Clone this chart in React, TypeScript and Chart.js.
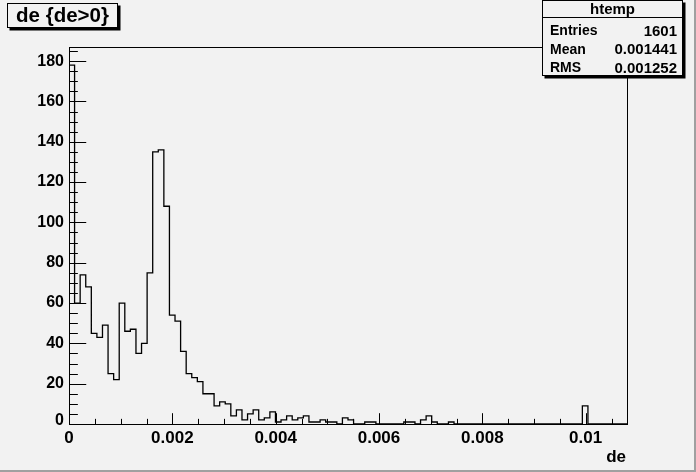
import { useEffect, useRef } from "react";
import { Chart, registerables } from "chart.js";

Chart.register(...registerables);

// ---- data ----
const X_MIN = 0;
const X_MAX = 0.0108;
const Y_MAX = 187;
const NBINS = 100;

const binCounts = [
  178, 60, 74, 68, 45, 43, 49, 25, 22, 60,
  46, 47, 35, 40, 75, 135, 136, 108, 54, 51,
  36, 25, 23, 21, 15, 15, 9, 11, 10, 4,
  7, 2, 5, 7, 2, 3, 6, 1, 2, 4,
  2, 3, 4, 1, 1, 2, 1, 1, 0, 3,
  2, 0, 0, 1, 1, 0, 0, 0, 0, 0,
  1, 1, 0, 2, 4, 1, 0, 0, 1, 0,
  0, 0, 0, 0, 0, 0, 0, 0, 0, 0,
  0, 0, 0, 0, 0, 0, 0, 0, 0, 0,
  0, 0, 9, 0, 0, 0, 0, 0, 0, 0,
];

const xTickValues = [0, 0.002, 0.004, 0.006, 0.008, 0.01];
const xTickLabels = ["0", "0.002", "0.004", "0.006", "0.008", "0.01"];
const xMinorStep = 0.0005;
const yTickValues = [0, 20, 40, 60, 80, 100, 120, 140, 160, 180];
const yTickLabels = ["0", "20", "40", "60", "80", "100", "120", "140", "160", "180"];
const yMinorStep = 5;

const titleText = "de {de>0}";
const xAxisTitle = "de";
const statsTitle = "htemp";
const statsNames = ["Entries", "Mean", "RMS"];
const statsValues = ["1601", "0.001441", "0.001252"];

// ---- styles ----
const BG = "#f2f2f2";
const FONT = '"Liberation Sans", Arial, Helvetica, sans-serif';

const rootPlugin = {
  id: "rootStyle",
  beforeDraw(chart: any) {
    const ctx = chart.ctx as CanvasRenderingContext2D;
    ctx.save();
    ctx.fillStyle = BG;
    ctx.fillRect(0, 0, chart.width, chart.height);
    ctx.fillStyle = "#a0a0a0";
    ctx.fillRect(0, chart.height - 2, chart.width, 2);
    ctx.fillRect(chart.width - 2, 0, 2, chart.height);
    ctx.restore();
  },
  afterDraw(chart: any) {
    const ctx = chart.ctx as CanvasRenderingContext2D;
    const { left, right, top, bottom } = chart.chartArea;
    const xs = chart.scales.x;
    const ys = chart.scales.y;
    const L = Math.round(left) + 0.5;
    const R = Math.round(right) + 0.5;
    const T = Math.round(top) + 0.5;
    const B = Math.round(bottom) + 0.5;
    ctx.save();
    ctx.strokeStyle = "#000";
    ctx.lineWidth = 1;
    ctx.strokeRect(L, T, R - L, B - T);

    const yMajorLen = 0.03 * (right - left);
    ctx.beginPath();
    for (let k = 0; k * yMinorStep <= Y_MAX; k++) {
      const v = k * yMinorStep;
      const py = Math.round(ys.getPixelForValue(v)) + 0.5;
      const isMajor = yTickValues.includes(v);
      const len = isMajor ? yMajorLen : yMajorLen / 2;
      ctx.moveTo(L, py);
      ctx.lineTo(L + len, py);
    }
    const xMajorLen = 0.03 * (bottom - top);
    for (let k = 0; k * xMinorStep <= X_MAX + 1e-12; k++) {
      const v = k * xMinorStep;
      const px = Math.round(xs.getPixelForValue(v)) + 0.5;
      const isMajor = k % 4 === 0;
      const len = isMajor ? xMajorLen : xMajorLen / 2;
      ctx.moveTo(px, B);
      ctx.lineTo(px, B - len);
    }
    ctx.stroke();

    ctx.fillStyle = "#000";
    ctx.font = `bold 16px ${FONT}`;
    ctx.textAlign = "right";
    ctx.textBaseline = "middle";
    yTickValues.forEach((v, i) => {
      const py = ys.getPixelForValue(v);
      ctx.fillText(yTickLabels[i], left - 5, i === 0 ? py - 3 : py);
    });
    ctx.font = `bold 17px ${FONT}`;
    ctx.textAlign = "center";
    ctx.textBaseline = "top";
    xTickValues.forEach((v, i) => {
      const px = xs.getPixelForValue(v);
      ctx.fillText(xTickLabels[i], px, bottom + 6);
    });
    ctx.font = `bold 17px ${FONT}`;
    ctx.textAlign = "right";
    ctx.textBaseline = "alphabetic";
    ctx.fillText(xAxisTitle, right - 1, 462);

    const tb = { x: 7.5, y: 3.5, w: 110, h: 24 };
    ctx.fillStyle = "#000";
    ctx.fillRect(tb.x + 2, tb.y + 2, tb.w + 1, tb.h + 1);
    ctx.fillStyle = BG;
    ctx.fillRect(tb.x, tb.y, tb.w, tb.h);
    ctx.strokeRect(tb.x, tb.y, tb.w, tb.h);
    ctx.fillStyle = "#000";
    ctx.font = `bold 20.5px ${FONT}`;
    ctx.textAlign = "center";
    ctx.textBaseline = "middle";
    ctx.fillText(titleText, tb.x + tb.w / 2, tb.y + tb.h / 2 + 1);

    const sb = { x: 542.5, y: 0.5, w: 140, h: 75 };
    ctx.fillStyle = "#000";
    ctx.fillRect(sb.x + 2, sb.y + 2, sb.w + 1, sb.h + 1);
    ctx.fillStyle = BG;
    ctx.fillRect(sb.x, sb.y, sb.w, sb.h);
    ctx.strokeRect(sb.x, sb.y, sb.w, sb.h);
    ctx.beginPath();
    ctx.moveTo(sb.x, 17.5);
    ctx.lineTo(sb.x + sb.w, 17.5);
    ctx.stroke();
    ctx.fillStyle = "#000";
    ctx.font = `bold 15px ${FONT}`;
    ctx.textAlign = "center";
    ctx.textBaseline = "middle";
    ctx.fillText(statsTitle, sb.x + sb.w / 2, 10);
    const rowY = [31.5, 50, 68.5];
    statsNames.forEach((n, i) => {
      ctx.font = `bold 14px ${FONT}`;
      ctx.textAlign = "left";
      ctx.fillText(n, 550, rowY[i]);
      ctx.font = `bold 15px ${FONT}`;
      ctx.textAlign = "right";
      ctx.fillText(statsValues[i], 677, rowY[i]);
    });
    ctx.restore();
  },
};

export default function App() {
  const ref = useRef<HTMLCanvasElement>(null);
  useEffect(() => {
    const binW = (X_MAX - X_MIN) / NBINS;
    const pts = [
      { x: X_MIN, y: 0 },
      ...binCounts.map((c, i) => ({ x: X_MIN + i * binW, y: c })),
      { x: X_MAX, y: 0 },
    ];
    const chart = new Chart(ref.current!, {
      type: "line",
      data: {
        datasets: [
          {
            data: pts,
            stepped: true,
            borderColor: "#000",
            borderWidth: 1.3,
            pointRadius: 0,
            fill: false,
            tension: 0,
          } as any,
        ],
      },
      options: {
        animation: false,
        responsive: false,
        devicePixelRatio: 1,
        layout: { padding: { left: 69, top: 47, right: 69, bottom: 48 } },
        plugins: { legend: { display: false }, tooltip: { enabled: false } },
        events: [],
        scales: {
          x: { type: "linear", min: X_MIN, max: X_MAX, display: false },
          y: { type: "linear", min: 0, max: Y_MAX, display: false },
        },
      },
      plugins: [rootPlugin],
    });
    return () => chart.destroy();
  }, []);
  return (
    <div style={{ position: "fixed", left: 0, top: 0, width: 696, height: 472 }}>
      <canvas ref={ref} width={696} height={472} style={{ display: "block", width: 696, height: 472 }} />
    </div>
  );
}
